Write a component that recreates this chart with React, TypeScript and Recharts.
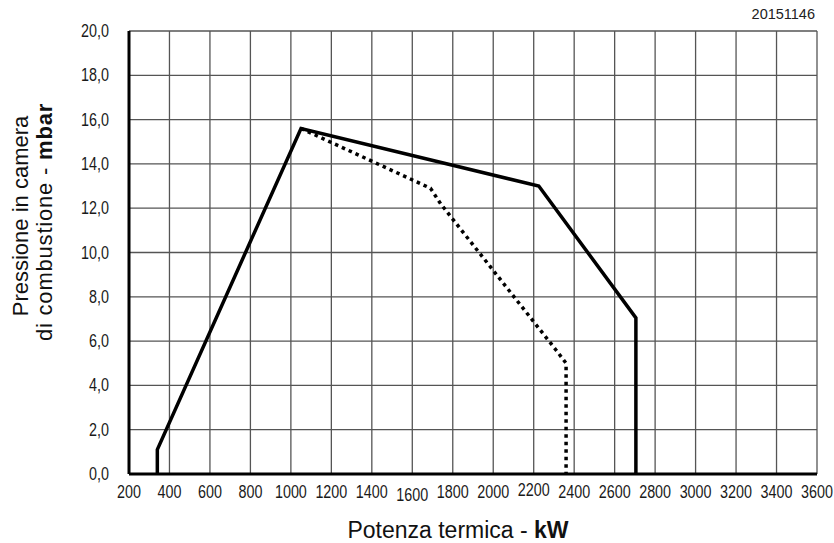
import { CartesianGrid, Line, LineChart, XAxis, YAxis } from 'recharts'

const xTicks = [200, 400, 600, 800, 1000, 1200, 1400, 1600, 1800, 2000, 2200, 2400, 2600, 2800, 3000, 3200, 3400, 3600]
const yTicks = [0, 2, 4, 6, 8, 10, 12, 14, 16, 18, 20]

// campo di lavoro - linea continua
const solidPower = [340, 340, 1050, 2225, 2705, 2705]
const solidPressure = [0, 1.1, 15.6, 13.0, 7.05, 0]

// linea tratteggiata
const dottedPower = [1050, 1690, 1740, 2310, 2360, 2360]
const dottedPressure = [15.6, 12.9, 12.2, 5.6, 5.0, 0]

const solid = solidPower.map((p, i) => ({ power: p, pressure: solidPressure[i] }))
const dotted = dottedPower.map((p, i) => ({ power: p, pressure: dottedPressure[i] }))

const FONT = "'Liberation Sans', Arial, sans-serif"

// the source drawing has a few labels nudged up or down
const xLabelNudge: Record<number, number> = { 1600: 3, 2200: -2 }

// narrow look: plain sans squeezed horizontally
function XTick({ x, y, payload }: any) {
  const dy = xLabelNudge[payload.value] ?? 0
  return (
    <text
      transform={`translate(${x}, ${y + 16 + dy}) scale(0.82, 1)`}
      textAnchor="middle"
      fontFamily={FONT}
      fontSize={17.5}
      fill="#1a1a1a"
    >
      {payload.value}
    </text>
  )
}

function YTick({ x, y, payload }: any) {
  return (
    <text
      transform={`translate(${x - 12}, ${y + 6}) scale(0.82, 1)`}
      textAnchor="end"
      fontFamily={FONT}
      fontSize={17.5}
      fill="#1a1a1a"
    >
      {payload.value.toFixed(1).replace('.', ',')}
    </text>
  )
}

const rotated = (cx: number, cy: number): React.CSSProperties => ({
  position: 'absolute',
  left: cx,
  top: cy,
  transform: 'translate(-50%, -50%) rotate(-90deg)',
  whiteSpace: 'nowrap',
  fontFamily: FONT,
  fontSize: 22,
  lineHeight: '24px',
  color: '#111',
})

export default function App() {
  return (
    <div style={{ position: 'absolute', left: 0, top: 0, width: 834, height: 543, background: '#fff' }}>
      <LineChart width={834} height={543} margin={{ top: 31, right: 17, bottom: 39, left: 79 }}>
        <CartesianGrid stroke="#555" strokeWidth={1.3} />
        <XAxis
          type="number"
          dataKey="power"
          domain={[200, 3600]}
          ticks={xTicks}
          interval={0}
          height={30}
          tick={<XTick />}
          tickLine={false}
          axisLine={{ stroke: '#000', strokeWidth: 3 }}
          allowDataOverflow
        />
        <YAxis
          type="number"
          dataKey="pressure"
          domain={[0, 20]}
          ticks={yTicks}
          interval={0}
          width={50}
          tick={<YTick />}
          tickLine={false}
          axisLine={{ stroke: '#000', strokeWidth: 3 }}
        />
        <Line
          data={dotted}
          dataKey="pressure"
          type="linear"
          stroke="#000"
          strokeWidth={3.5}
          strokeDasharray="3.5 4"
          dot={false}
          isAnimationActive={false}
        />
        <Line
          data={solid}
          dataKey="pressure"
          type="linear"
          stroke="#000"
          strokeWidth={3.5}
          strokeLinejoin="miter"
          dot={false}
          isAnimationActive={false}
        />
      </LineChart>
      <div
        style={{
          position: 'absolute',
          right: 19,
          top: 6,
          fontFamily: FONT,
          fontSize: 14.5,
          color: '#222',
        }}
      >
        20151146
      </div>
      <div
        style={{
          position: 'absolute',
          left: 458,
          top: 517,
          transform: 'translateX(-50%)',
          whiteSpace: 'nowrap',
          fontFamily: FONT,
          fontSize: 23,
          lineHeight: '26px',
          color: '#111',
        }}
      >
        Potenza termica - <b>kW</b>
      </div>
      <div style={rotated(21, 216)}>Pressione in camera</div>
      <div style={{ ...rotated(45, 222), letterSpacing: 0.8 }}>
        di combustione - <b>mbar</b>
      </div>
    </div>
  )
}
